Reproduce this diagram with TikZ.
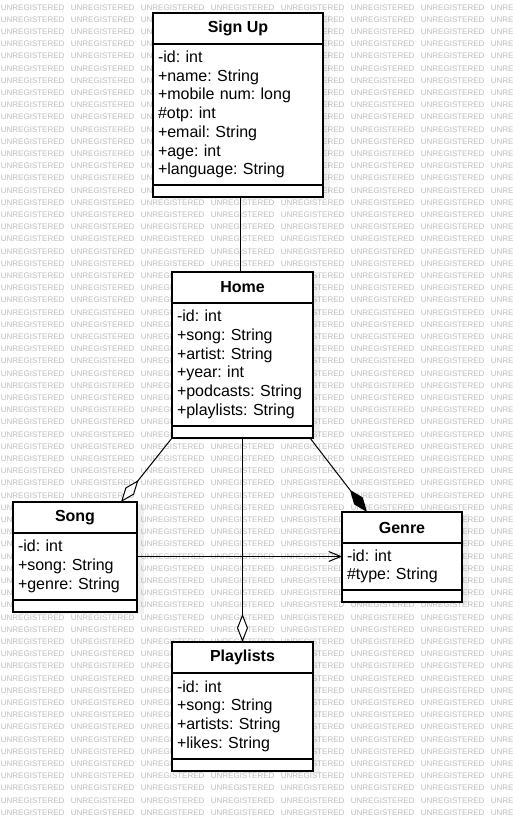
\documentclass[tikz,border=0pt]{standalone}
\usepackage{fontspec}
\setmainfont{Liberation Sans}
\usepackage{tikz}
\usetikzlibrary{arrows.meta, positioning, calc, backgrounds}
\frenchspacing
\tikzset{
  clshead/.style={rectangle, draw=black, line width=1.2pt, fill=white, inner sep=0pt, outer sep=0pt, minimum height=31pt, font=\fontsize{16}{19}\selectfont\bfseries},
  clsattr/.style={rectangle, draw=black, line width=1.2pt, fill=white, inner xsep=5pt, inner ysep=0pt, outer sep=0pt, align=left, font=\fontsize{16}{18.7}\selectfont},
  clsfoot/.style={rectangle, draw=black, line width=1.2pt, fill=white, inner sep=0pt, outer sep=0pt, minimum height=12pt},
  wmark/.style={anchor=west, inner sep=0pt, text=black!26, font=\fontsize{8}{8}\selectfont},
  boxshade/.style={fill=black, fill opacity=0.06},
  link/.style={line width=1pt},
  aggr/.style={line width=1pt, -{Diamond[fill=white, length=28pt, width=11pt]}},
  comp/.style={line width=1pt, -{Diamond[length=28pt, width=11pt]}},
  assoc/.style={line width=1pt, -{Straight Barb[length=12pt, width=10pt]}},
}

\begin{document}
\begin{tikzpicture}[x=1pt, y=-1pt]
\useasboundingbox (0,0) rectangle (513,821);
\begin{scope}[on background layer]
\fill[white] (0,0) rectangle (513,821);
\clip (0,0) rectangle (513,821);
\foreach \r in {0,...,66}
  \foreach \c in {0,...,7}
    \node[wmark] (wm-\r-\c) at (0.7+70*\c, 7.3+12.2*\r) {UNREGISTERED};
\end{scope}

\node[clshead, minimum width=170pt] (signup) at (238,28.5) {Sign Up};
\node[clsattr, text width=160pt, minimum height=141pt, below=0pt of signup] (signupA) {-id: int\\+name: String\\+mobile num: long\\\#otp: int\\+email: String\\+age: int\\+language: String};
\node[clsfoot, minimum width=170pt, below=0pt of signupA] (signupF) {};

\node[clshead, minimum width=141pt] (home) at (242.5,287.5) {Home};
\node[clsattr, text width=131pt, minimum height=123pt, below=0pt of home] (homeA) {-id: int\\+song: String\\+artist: String\\+year: int\\+podcasts: String\\+playlists: String};
\node[clsfoot, minimum width=141pt, below=0pt of homeA] (homeF) {};

\node[clshead, minimum width=124pt] (song) at (75,517.5) {Song};
\node[clsattr, text width=114pt, minimum height=67pt, below=0pt of song] (songA) {-id: int\\+song: String\\+genre: String};
\node[clsfoot, minimum width=124pt, below=0pt of songA] (songF) {};

\node[clshead, minimum width=120pt] (genre) at (402,527.5) {Genre};
\node[clsattr, text width=110pt, minimum height=47pt, below=0pt of genre] (genreA) {-id: int\\\#type: String};
\node[clsfoot, minimum width=120pt, below=0pt of genreA] (genreF) {};

\node[clshead, minimum width=141pt] (playlists) at (242.5,657.5) {Playlists};
\node[clsattr, text width=131pt, minimum height=86pt, below=0pt of playlists] (playlistsA) {-id: int\\+song: String\\+artists: String\\+likes: String};
\node[clsfoot, minimum width=141pt, below=0pt of playlistsA] (playlistsF) {};

\begin{scope}[on background layer]
\fill[boxshade] ($(signup.north west)+(7,2)$) rectangle ($(signupF.south east)+(7,2)$);
\fill[boxshade] ($(home.north west)+(7,2)$) rectangle ($(homeF.south east)+(7,2)$);
\fill[boxshade] ($(song.north west)+(7,2)$) rectangle ($(songF.south east)+(7,2)$);
\fill[boxshade] ($(genre.north west)+(7,2)$) rectangle ($(genreF.south east)+(7,2)$);
\fill[boxshade] ($(playlists.north west)+(7,2)$) rectangle ($(playlistsF.south east)+(7,2)$);
\end{scope}

\coordinate (sg) at ([yshift=10pt]songA.east);
\draw[link] ([xshift=2.5pt]signupF.south) -- ([xshift=-2pt]home.north);
\draw[aggr] (homeF.south west) -- ([xshift=-16pt]song.north east);
\draw[aggr] (homeF.south) -- (playlists.north);
\draw[comp] ([xshift=-3pt]homeF.south east) -- ([xshift=25pt]genre.north west);
\draw[assoc] (sg) -- (sg -| genreA.west);
\end{tikzpicture}
\end{document}
